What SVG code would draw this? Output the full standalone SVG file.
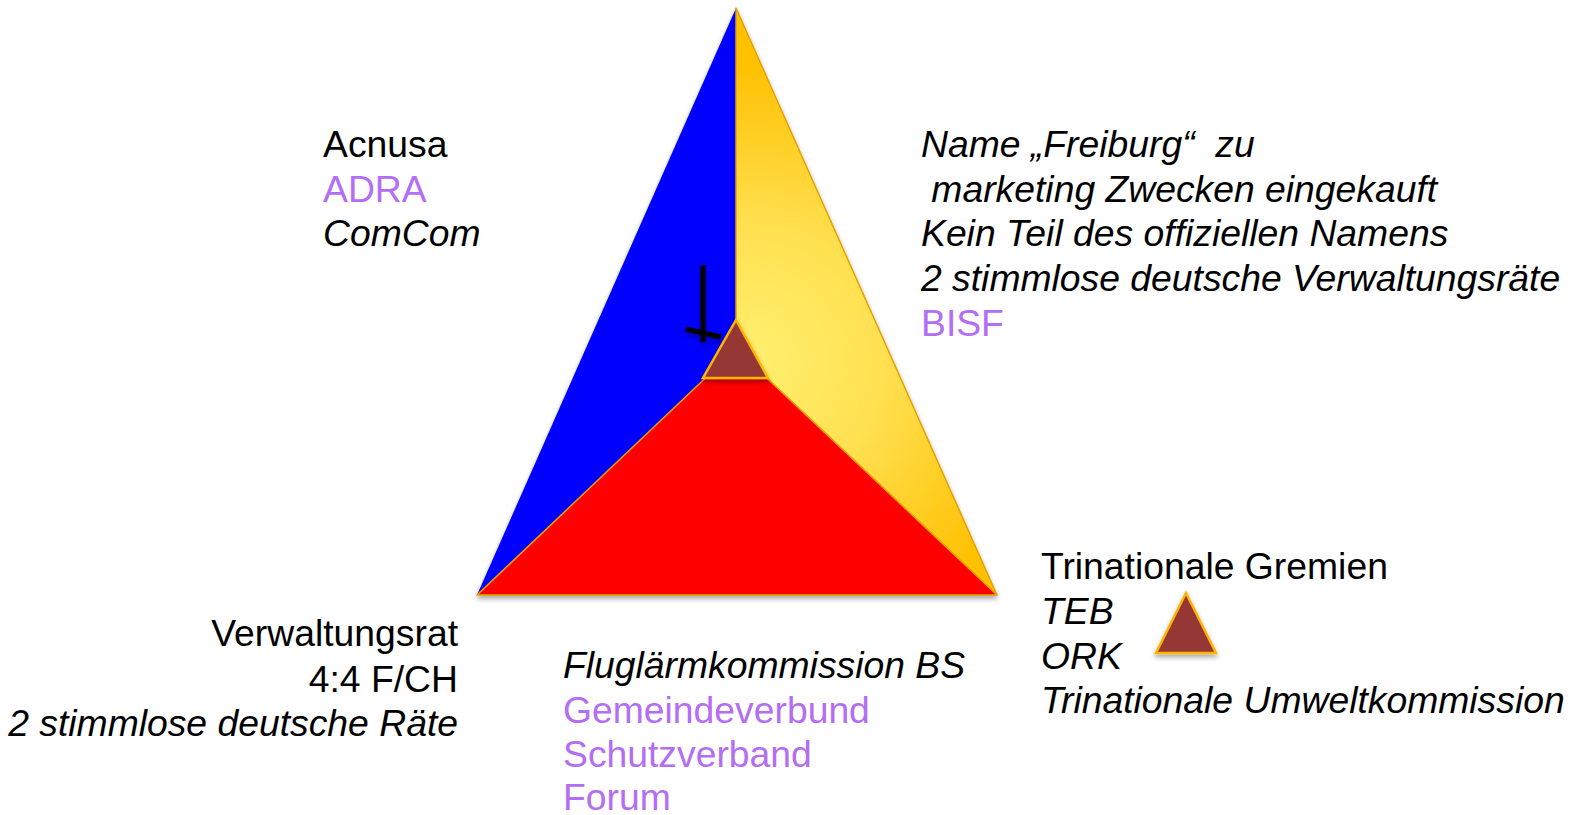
<svg xmlns="http://www.w3.org/2000/svg" width="1571" height="815" viewBox="0 0 1571 815">
<style>
text{font-family:"Liberation Sans",Arial,Helvetica,sans-serif;font-size:37.3px;fill:#000;white-space:pre}
.i{font-style:italic}
.p{fill:#B46EF4}
.r{text-anchor:end}
.edge{stroke:#E0A300;stroke-width:1.5;stroke-linejoin:round}
.mini{fill:#953735;stroke:#FFB400;stroke-width:2.5;stroke-linejoin:miter}
</style>
<defs>
<radialGradient id="yg" gradientUnits="userSpaceOnUse" cx="750" cy="360" r="300">
<stop offset="0" stop-color="#FFF070"/>
<stop offset="0.45" stop-color="#FFE050"/>
<stop offset="1" stop-color="#FFC000"/>
</radialGradient>
<filter id="sh" x="-10%" y="-10%" width="120%" height="125%">
<feDropShadow dx="0" dy="3" stdDeviation="2.5" flood-color="#000" flood-opacity="0.35"/>
</filter>
</defs>
<rect width="1571" height="815" fill="#fff"/>
<g id="pyramid" filter="url(#sh)">
<polygon id="blue-face" points="736,8 477,595 736,349" fill="#0000FF"/>
<polygon id="yellow-face" class="edge" points="736,8 997,595 736,349" fill="url(#yg)"/>
<polygon id="red-face" class="edge" points="477,595 997,595 736,349" fill="#FF0000"/>
</g>
<g id="cross" filter="url(#sh)" stroke="#000" stroke-width="5">
<line x1="703" y1="265" x2="703" y2="342"/>
<line x1="686" y1="329" x2="721" y2="337"/>
</g>
<g id="center-triangle" filter="url(#sh)">
<polygon class="mini" points="736,320 703,378 768,378"/>
</g>
<g id="connectors"></g>
<g id="node-top-left">
<text x="323" y="157">Acnusa</text>
<text class="p" x="323" y="202">ADRA</text>
<text class="i" x="323" y="246">ComCom</text>
</g>
<g id="node-top-right">
<text class="i" x="921" y="157">Name „Freiburg“  zu</text>
<text class="i" x="921" y="202"> marketing Zwecken eingekauft</text>
<text class="i" x="921" y="246">Kein Teil des offiziellen Namens</text>
<text class="i" x="921" y="291">2 stimmlose deutsche Verwaltungsräte</text>
<text class="p" x="921" y="336">BISF</text>
</g>
<g id="node-bottom-left">
<text class="r" x="458" y="646">Verwaltungsrat</text>
<text class="r" x="458" y="692">4:4 F/CH</text>
<text class="r i" x="458" y="736">2 stimmlose deutsche Räte</text>
</g>
<g id="node-bottom-center">
<text class="i" x="563" y="678">Fluglärmkommission BS</text>
<text class="p" x="563" y="723">Gemeindeverbund</text>
<text class="p" x="563" y="767">Schutzverband</text>
<text class="p" x="563" y="810">Forum</text>
</g>
<g id="node-bottom-right">
<text x="1041" y="579">Trinationale Gremien</text>
<text class="i" x="1041" y="624">TEB</text>
<text class="i" x="1041" y="669">ORK</text>
<text class="i" x="1041" y="713">Trinationale Umweltkommission</text>
<g filter="url(#sh)">
<polygon class="mini" points="1186,593 1156,653 1216,653"/>
</g>
</g>
</svg>
